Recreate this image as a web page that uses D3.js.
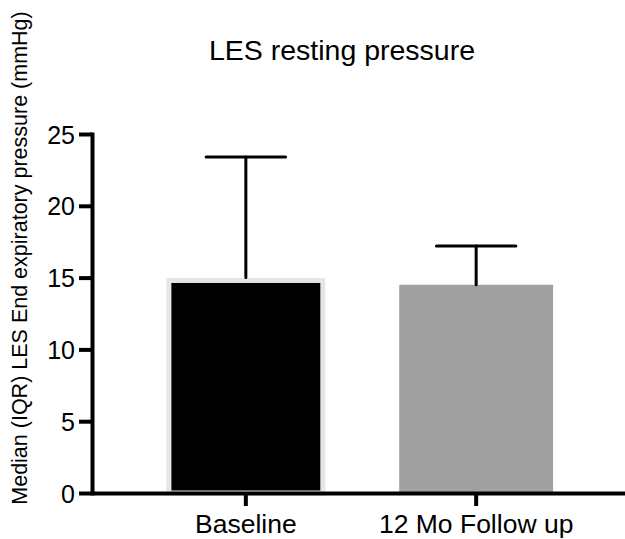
<!DOCTYPE html>
<html>
<head>
<meta charset="utf-8">
<script src="https://cdn.jsdelivr.net/npm/d3@7"></script>
<style>
  body { margin: 0; background: #fff; }
  text { font-family: "Liberation Sans", Arial, Helvetica, sans-serif; fill: #000; }
</style>
</head>
<body>
<svg id="chart" width="625" height="539"></svg>
<script>
// values
var categories = ['Baseline', '12 Mo Follow up'];
var medians = [14.8, 14.5];
var upperIQR = [23.4, 17.2];
var barColors = ['#000000', '#a0a0a0'];
var barStroke = ['#e6e6e6', 'none'];
var yTicks = [0, 5, 10, 15, 20, 25];

var svg = d3.select('#chart');

var y = d3.scaleLinear().domain([0, 25]).range([493, 134]);
var x = d3.scaleBand().domain(categories).range([92, 630])
	.paddingInner(0.31).paddingOuter(0.323);

// bars
var bw = x.bandwidth();
svg.append('g').selectAll('rect')
	.data(categories)
	.enter().append('rect')
		.attr('x', (d) => x(d) + 2.5)
		.attr('y', (d, i) => y(medians[i]))
		.attr('width', bw - 5)
		.attr('height', (d, i) => y(0) - y(medians[i]))
		.attr('fill', (d, i) => barColors[i])
		.attr('stroke', (d, i) => barStroke[i])
		.attr('stroke-width', 5);

// upper error whiskers
var err = svg.append('g')
	.attr('stroke', '#000')
	.attr('stroke-width', 3)
	.attr('stroke-linecap', 'round');
categories.forEach(function (c, i) {
	var cx = x(c) + bw / 2;
	var top = medians[i] + (i == 0 ? 0.2 : 0);
	err.append('line')
		.attr('x1', cx).attr('x2', cx)
		.attr('y1', y(top)).attr('y2', y(upperIQR[i]));
	err.append('line')
		.attr('x1', cx - bw / 4).attr('x2', cx + bw / 4)
		.attr('y1', y(upperIQR[i])).attr('y2', y(upperIQR[i]));
});

// y axis
var yAxis = svg.append('g')
	.attr('transform', 'translate(92,0)')
	.call(d3.axisLeft(y).tickValues(yTicks).tickSize(13).tickSizeOuter(0).tickPadding(4));
yAxis.select('.domain').attr('stroke-width', 4).attr('stroke-linecap', 'square');
yAxis.selectAll('.tick line').attr('stroke-width', 4);
yAxis.selectAll('.tick text').attr('font-size', 25).attr('dy', '0.36em')
	.style('font-family', '"Liberation Sans", Arial, sans-serif');

// x axis
var xAxis = svg.append('g')
	.attr('transform', 'translate(0,493)')
	.call(d3.axisBottom(x).tickSize(13).tickSizeOuter(0).tickPadding(8));
xAxis.select('.domain').attr('stroke-width', 4);
xAxis.selectAll('.tick line').attr('stroke-width', 4);
xAxis.selectAll('.tick text').attr('font-size', 26.5)
	.style('font-family', '"Liberation Sans", Arial, sans-serif');

// title
svg.append('text')
	.attr('x', 342)
	.attr('y', 60)
	.attr('text-anchor', 'middle')
	.attr('font-size', 28.5)
	.text('LES resting pressure');

// y label
svg.append('text')
	.attr('transform', 'translate(27,258) rotate(-90)')
	.attr('text-anchor', 'middle')
	.attr('font-size', 21.5)
	.text('Median (IQR) LES End expiratory pressure (mmHg)');
</script>
</body>
</html>
